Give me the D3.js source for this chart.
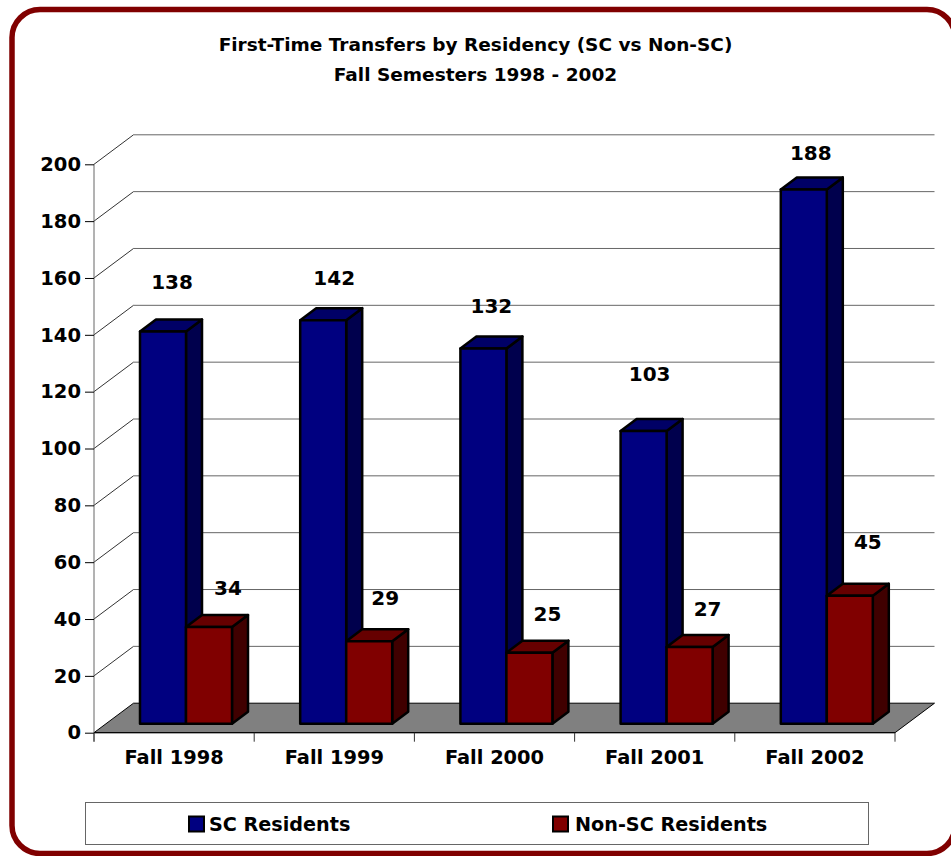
<!DOCTYPE html>
<html>
<meta charset="utf-8">
  <head>
    <script src="https://d3js.org/d3.v7.min.js"></script>
    <style>
      body { margin: 0; background: #fff; }
      svg { display: block; }
      text { font-family: "DejaVu Sans", sans-serif; font-weight: bold; fill: #000; }
    </style>
  </head>
  <body>
    <div id="my_dataviz"></div>
    <script>

    // the data
    var categories = ["Fall 1998", "Fall 1999", "Fall 2000", "Fall 2001", "Fall 2002"];
    var seriesNames = ["SC Residents", "Non-SC Residents"];
    var scResidents = [138, 142, 132, 103, 188];
    var nonScResidents = [34, 29, 25, 27, 45];
    var yTicks = [0, 20, 40, 60, 80, 100, 120, 140, 160, 180, 200];
    var titleLines = ["First-Time Transfers by Residency (SC vs Non-SC)", "Fall Semesters 1998 - 2002"];

    // where the data labels float, the original has them placed by hand: [dx from bar centre, lift above bar top]
    var scLabelNudge = [[9, 50], [11, 42], [8, 43], [6, 57], [7, 37]];
    var nonScLabelNudge = [[19, 39], [16, 43], [18, 39], [18, 38], [18, 54]];

    var width = 951, height = 856;

    // fake 3d: how far the back wall sits from the front plane, and how deep a bar is
    var wallDx = 39.5, wallDy = -29.5;
    var barDx = 16, barDy = -12, barLift = 9;

    var svg = d3.select("#my_dataviz")
      .append("svg")
        .attr("width", width)
        .attr("height", height);

    // outer frame
    svg.append("rect")
        .attr("x", 12).attr("y", 9.5)
        .attr("width", 943).attr("height", 844)
        .attr("rx", 28).attr("ry", 28)
        .attr("fill", "#fff")
        .attr("stroke", "#800000")
        .attr("stroke-width", 5.5);

    // title
    svg.selectAll("text.title")
        .data(titleLines)
        .enter()
        .append("text")
          .attr("class", "title")
          .attr("x", 475.5)
          .attr("y", function(d, i) { return 51 + i * 30; })
          .attr("text-anchor", "middle")
          .style("font-size", "18.5px")
          .text(function(d) { return d; });

    // scales
    var x = d3.scaleBand().domain(categories).range([94, 895]);
    var xInner = d3.scaleBand().domain(seriesNames).range([46, 138]);
    var y = d3.scaleLinear().domain([0, 200]).range([732.7, 164.3]);

    function pts(a) { return a.map(function(p) { return p.join(","); }).join(" "); }

    // floor
    svg.append("polygon")
        .attr("points", pts([
          [x.range()[0], y(0)],
          [x.range()[1], y(0)],
          [x.range()[1] + wallDx, y(0) + wallDy],
          [x.range()[0] + wallDx, y(0) + wallDy]
        ]))
        .attr("fill", "#808080")
        .attr("stroke", "#000")
        .attr("stroke-width", 1);

    // gridlines on the back wall + the little diagonals on the side wall
    var grid = svg.append("g").selectAll("g")
        .data(yTicks.filter(function(d) { return d > 0; }))
        .enter().append("g");
    grid.append("line")
        .attr("x1", x.range()[0] + wallDx)
        .attr("x2", x.range()[1] + wallDx)
        .attr("y1", function(d) { return y(d) + wallDy; })
        .attr("y2", function(d) { return y(d) + wallDy; })
        .attr("stroke", "#666");
    grid.append("line")
        .attr("x1", x.range()[0])
        .attr("x2", x.range()[0] + wallDx)
        .attr("y1", function(d) { return y(d); })
        .attr("y2", function(d) { return y(d) + wallDy; })
        .attr("stroke", "#333");

    // axes
    var yAxis = d3.axisLeft(y).tickValues(yTicks).tickSize(9).tickPadding(4);
    var xAxis = d3.axisBottom(x).tickSize(9).tickPadding(0);

    var gy = svg.append("g")
        .attr("transform", "translate(" + x.range()[0] + ",0)")
        .call(yAxis);
    gy.select(".domain").attr("stroke", "#666").attr("d", "M0," + y(200) + "V" + (y(0) + 9));
    gy.selectAll("text").style("font-size", "19.5px");

    var gx = svg.append("g")
        .attr("transform", "translate(0," + y(0) + ")")
        .call(xAxis);
    gx.select(".domain").attr("d", "M" + x.range()[0] + ",0H" + x.range()[1]);
    // ticks go on the category edges, not the centres
    gx.selectAll(".tick line").remove();
    gx.selectAll("line.edge")
        .data(d3.range(categories.length + 1))
        .enter().append("line")
          .attr("class", "edge")
          .attr("x1", function(i) { return x.range()[0] + i * x.step(); })
          .attr("x2", function(i) { return x.range()[0] + i * x.step(); })
          .attr("y1", 0).attr("y2", 9)
          .attr("stroke", "#333");
    gx.selectAll(".tick text").attr("y", 18).style("font-size", "19.4px");

    // bars
    var series = [
      { name: seriesNames[0], values: scResidents, nudge: scLabelNudge, front: "#000080", top: "#000066", side: "#00004d" },
      { name: seriesNames[1], values: nonScResidents, nudge: nonScLabelNudge, front: "#800000", top: "#660000", side: "#400000" }
    ];

    var base = y(0) - barLift;
    var bw = xInner.bandwidth();

    function barLeft(cat, s) { return x(cat) + xInner(s.name); }
    function barTop(v) { return y(v) - barLift; }

    // one category at a time, left to right, so the red bar overlaps the blue side
    categories.forEach(function(cat, i) {
      var g = svg.append("g");
      series.forEach(function(s) {
        var l = barLeft(cat, s), t = barTop(s.values[i]);
        var b = g.append("g")
            .attr("stroke", "#000")
            .attr("stroke-width", 2.5)
            .attr("stroke-linejoin", "round");
        b.append("polygon")
            .attr("points", pts([[l + bw, t], [l + bw + barDx, t + barDy], [l + bw + barDx, base + barDy], [l + bw, base]]))
            .attr("fill", s.side);
        b.append("polygon")
            .attr("points", pts([[l, t], [l + barDx, t + barDy], [l + bw + barDx, t + barDy], [l + bw, t]]))
            .attr("fill", s.top);
        b.append("rect")
            .attr("x", l).attr("y", t)
            .attr("width", bw).attr("height", base - t)
            .attr("fill", s.front);
      });
    });

    // data labels
    series.forEach(function(s) {
      svg.selectAll("text.val-" + s.values[0])
          .data(s.values)
          .enter()
          .append("text")
            .attr("x", function(d, i) { return barLeft(categories[i], s) + bw / 2 + s.nudge[i][0]; })
            .attr("y", function(d, i) { return barTop(d) - s.nudge[i][1]; })
            .attr("dy", "0.36em")
            .attr("text-anchor", "middle")
            .style("font-size", "20px")
            .text(function(d) { return d; });
    });

    // legend
    var legend = svg.append("g");
    legend.append("rect")
        .attr("x", 85.5).attr("y", 802.5)
        .attr("width", 783).attr("height", 42)
        .attr("fill", "#fff")
        .attr("stroke", "#666");
    var legendX = d3.scalePoint().domain(seriesNames).range([189, 553]);
    var item = legend.selectAll("g.item")
        .data(series)
        .enter().append("g")
          .attr("class", "item")
          .attr("transform", function(d) { return "translate(" + legendX(d.name) + ",816.5)"; });
    item.append("rect")
        .attr("width", 15).attr("height", 15)
        .attr("fill", function(d) { return d.front; })
        .attr("stroke", "#000")
        .attr("stroke-width", 2);
    item.append("text")
        .attr("x", function(d, i) { return 20 + i * 2; })
        .attr("y", 7.5)
        .attr("dy", "0.36em")
        .style("font-size", "19.2px")
        .text(function(d) { return d.name; });

    </script>
  </body>
</html>
